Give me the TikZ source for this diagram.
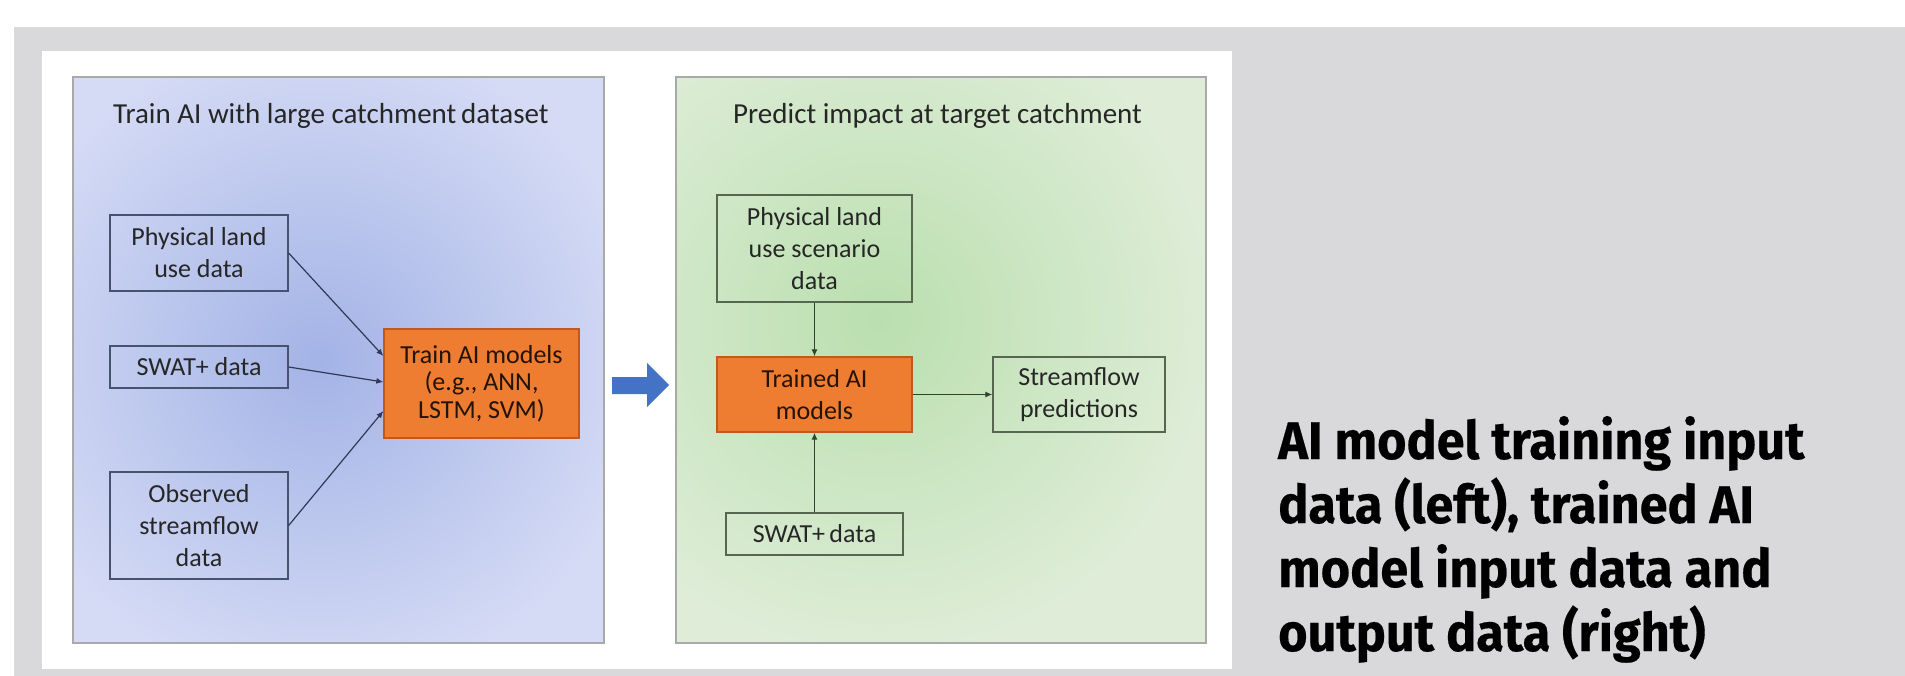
\documentclass[tikz,border=0pt]{standalone}
\usepackage{fontspec}
\setmainfont{Carlito}
\newfontfamily\capfont[FakeStretch=0.95, BoldFeatures={FakeBold=0.4}]{Fira Sans}
\usetikzlibrary{arrows.meta}
\definecolor{bggray}{HTML}{D9D9DB}
\definecolor{bluelight}{HTML}{D5DBF5}
\definecolor{bluedark}{HTML}{A3B3E6}
\definecolor{greenlight}{HTML}{DFEDD8}
\definecolor{greendark}{HTML}{BADFAF}
\definecolor{panelborder}{HTML}{A9A9A9}
\definecolor{leftedge}{HTML}{47526E}
\definecolor{rightedge}{HTML}{56664F}
\definecolor{leftline}{HTML}{2E3A55}
\definecolor{rightline}{HTML}{34412F}
\definecolor{orangefill}{HTML}{EE7D31}
\definecolor{orangeedge}{HTML}{C4571C}
\definecolor{blockblue}{HTML}{4472C4}
\definecolor{txt}{HTML}{262626}
\begin{document}
\begin{tikzpicture}[x=1pt,y=-1pt,
  boxtext/.style={font=\fontsize{26}{32}\selectfont, text=txt, align=center, inner sep=0pt},
  leftbox/.style={boxtext, draw=leftedge, line width=1.3pt},
  rightbox/.style={boxtext, draw=rightedge, line width=1.3pt},
  orangebox/.style={boxtext, fill=orangefill, draw=orangeedge, line width=1.3pt, text=black!85!orangefill},
  titletext/.style={font=\fontsize{29}{34}\selectfont, text=txt, anchor=base west, inner sep=0pt},
  captext/.style={font=\capfont\bfseries\fontsize{53}{64}\selectfont, text=black, anchor=base west, inner sep=0pt},
  leftarrow/.style={draw=leftline, line width=1.2pt, -{Latex[length=7pt,width=6pt]}},
  rightarrow/.style={draw=rightline, line width=1.2pt, -{Latex[length=7pt,width=6pt]}},
  panel/.style={draw=panelborder, line width=1.2pt}
]
\useasboundingbox (0,0) rectangle (1905,676);
% page backgrounds
\fill[white] (0,0) rectangle (1905,676);
\fill[bggray] (14,27) rectangle (1905,676);
\fill[white] (42,51) rectangle (1232,669);
% blue panel
\begin{scope}
  \clip (73,77) rectangle (604,643);
  \fill[bluelight] (73,77) rectangle (604,643);
  \shade[inner color=bluedark, outer color=bluelight] (320,360) circle (330);
\end{scope}
\draw[panel] (73,77) rectangle (604,643);
% green panel
\begin{scope}
  \clip (676,77) rectangle (1206,643);
  \fill[greenlight] (676,77) rectangle (1206,643);
  \shade[inner color=greendark, outer color=greenlight] (880,320) circle (340);
\end{scope}
\draw[panel] (676,77) rectangle (1206,643);
% titles
\node[titletext] (t1) at (113,124) {Train AI with large catchment\,dataset};
\node[titletext] (t2) at (733,124) {Predict impact at target catchment};
% left boxes
\node[leftbox, minimum width=178pt, minimum height=76pt] (phys) at (199,253) {Physical land\\use data};
\node[leftbox, minimum width=178pt, minimum height=42pt] (swat) at (199,367) {SWAT+ data};
\node[leftbox, minimum width=178pt, minimum height=107pt] (obs) at (199,525.5) {Observed\\streamflow\\data};
\node[orangebox, minimum width=195pt, minimum height=109pt, font=\fontsize{26}{27.5}\selectfont] (train) at (481.5,383.5) {Train AI models\\(e.g., ANN,\\LSTM, SVM)};
\draw[leftarrow] (phys.east) -- ([yshift=27.5pt]train.west);
\draw[leftarrow] (swat.east) -- ([yshift=1.5pt]train.west);
\draw[leftarrow] (obs.east) -- ([yshift=-27.5pt]train.west);
% block arrow
\fill[blockblue] (612,377) -- (647,377) -- (647,363) -- (669,385) -- (647,407) -- (647,394) -- (612,394) -- cycle;
% right boxes
\node[rightbox, minimum width=195pt, minimum height=107pt] (scen) at (814.5,248.5) {Physical land\\use scenario\\data};
\node[orangebox, minimum width=195pt, minimum height=75pt] (trained) at (814.5,394.5) {Trained AI\\models};
\node[rightbox, minimum width=172pt, minimum height=75pt] (stream) at (1079,394.5) {Streamflow\\predictions};
\node[rightbox, minimum width=177pt, minimum height=42pt] (swat2) at (814.5,534) {SWAT+\,data};
\draw[rightarrow] (scen.south) -- (trained.north);
\draw[rightarrow] (swat2.north) -- (trained.south);
\draw[rightarrow] (trained.east) -- (stream.west);
% caption
\node[captext] (c1) at (1278,459) {AI model training input};
\node[captext] (c2) at (1278,523) {data (left), trained AI};
\node[captext] (c3) at (1278,587) {model input data and};
\node[captext] (c4) at (1278,651) {output data (right)};
\end{tikzpicture}
\end{document}
